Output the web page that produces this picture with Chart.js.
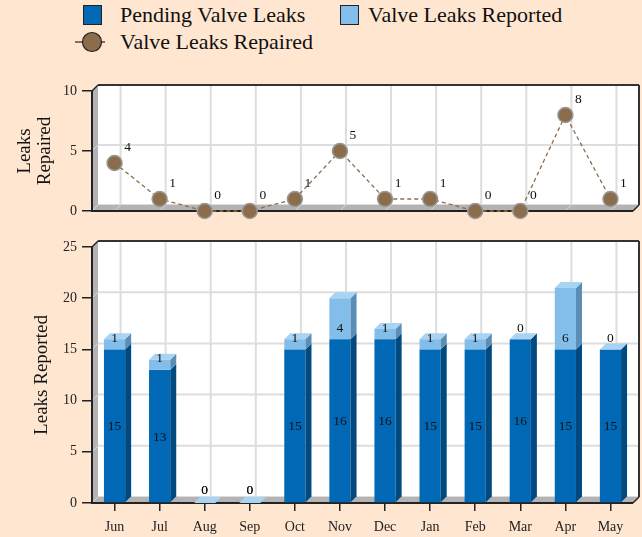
<!DOCTYPE html>
<html>
<head>
<meta charset="utf-8">
<script src="https://cdn.jsdelivr.net/npm/chart.js@4/dist/chart.umd.min.js"></script>
<style>
  html, body { margin: 0; padding: 0; background: #FFE6D0; }
  #wrap { position: relative; width: 642px; height: 537px; overflow: hidden; font-family: "Liberation Serif", "Times New Roman", serif; color: #111; }
  canvas { position: absolute; left: 0; }
  .lg-box { position: absolute; width: 17px; height: 18px; border: 1px solid #222; }
  .lg-text { position: absolute; font-size: 22px; line-height: 26px; white-space: nowrap; }
</style>
</head>
<body>
<div id="wrap">
  <!-- legend -->
  <div class="lg-box" style="left:83px;top:5px;background:#0068B4;"></div>
  <div class="lg-text" style="left:120px;top:2px;">Pending Valve Leaks</div>
  <div class="lg-box" style="left:340px;top:5px;background:#82BEE9;"></div>
  <div class="lg-text" style="left:368px;top:2px;">Valve Leaks Reported</div>
  <svg style="position:absolute;left:72px;top:30px;" width="36" height="24">
    <line x1="3" y1="12" x2="33" y2="12" stroke="#222" stroke-width="1.2"/>
    <circle cx="20" cy="12" r="9.5" fill="#8C6D4B" stroke="#222" stroke-width="1.2"/>
  </svg>
  <div class="lg-text" style="left:120px;top:29px;">Valve Leaks Repaired</div>

  <canvas id="chart-repaired" width="642" height="170" style="top:60px;"></canvas>
  <canvas id="chart-reported" width="642" height="307" style="top:230px;"></canvas>
</div>

<script>
const months = ['Jun', 'Jul', 'Aug', 'Sep', 'Oct', 'Nov', 'Dec', 'Jan', 'Feb', 'Mar', 'Apr', 'May'];
const pendingLeaks = [15, 13, 0, 0, 15, 16, 16, 15, 15, 16, 15, 15];
const reportedLeaks = [1, 1, 0, 0, 1, 4, 1, 1, 1, 0, 6, 0];
const repairedLeaks = [4, 1, 0, 0, 1, 5, 1, 1, 0, 0, 8, 1];
const repairedTicks = { min: 0, max: 10, step: 5 };
const reportedTicks = { min: 0, max: 25, step: 5 };

const SERIF = '"Liberation Serif", "Times New Roman", serif';
const DEPTH = 6;

const colors = {
  pending: '#0068B4', pendingSide: '#004A80',
  reported: '#82BEE9', reportedSide: '#5B8DB5', reportedTop: '#A8D3F2',
  repaired: '#8C6D4B', repairedLine: '#8C6D4B',
  wall: '#B3B3B3', wallMark: '#D8D8D8', grid: '#DDDDDD', edge: '#222222',
};

function poly(ctx, pts, fill) {
  ctx.beginPath();
  ctx.moveTo(pts[0][0], pts[0][1]);
  for (let i = 1; i < pts.length; i++) ctx.lineTo(pts[i][0], pts[i][1]);
  ctx.closePath();
  ctx.fillStyle = fill;
  ctx.fill();
}

function seg(ctx, x1, y1, x2, y2, color, width) {
  ctx.beginPath();
  ctx.moveTo(x1, y1);
  ctx.lineTo(x2, y2);
  ctx.strokeStyle = color;
  ctx.lineWidth = width;
  ctx.stroke();
}

// box frame: back wall, grid, side wall and floor
const frame3d = {
  id: 'frame3d',
  beforeDatasetsDraw(chart) {
    const ctx = chart.ctx;
    const { left, right, top, bottom } = chart.chartArea;
    const d = DEPTH;
    const xs = chart.scales.x, ys = chart.scales.y;
    ctx.save();
    ctx.fillStyle = '#fff';
    ctx.fillRect(left + d, top - d, right - left, bottom - top);

    ys.ticks.forEach(t => {
      const y = ys.getPixelForValue(t.value) - d;
      seg(ctx, left + d, y, right + d, y, colors.grid, 2);
    });
    months.forEach((m, i) => {
      const x = xs.getPixelForValue(i) + d;
      seg(ctx, x, top - d, x, bottom - d, colors.grid, 2);
    });

    poly(ctx, [[left, top], [left + d, top - d], [left + d, bottom - d], [left, bottom]], colors.wall);
    poly(ctx, [[left, bottom], [left + d, bottom - d], [right + d, bottom - d], [right, bottom]], colors.wall);
    ys.ticks.forEach(t => {
      const y = ys.getPixelForValue(t.value);
      seg(ctx, left, y, left + d, y - d, colors.wallMark, 1);
    });
    months.forEach((m, i) => {
      const x = xs.getPixelForValue(i);
      seg(ctx, x, bottom, x + d, bottom - d, colors.wallMark, 1);
    });

    seg(ctx, left + d, top - d, right + d, top - d, '#333', 2);
    seg(ctx, right + d, top - d, right + d, bottom - d, '#333', 2);
    seg(ctx, left, top, left + d, top - d, colors.edge, 1.5);
    seg(ctx, right, bottom, right + d, bottom - d, colors.edge, 1.5);
    seg(ctx, left, top - 1, left, bottom + 1, colors.edge, 2);
    seg(ctx, left - 1, bottom, right, bottom, colors.edge, 2);
    ctx.restore();
  },
};

// side and top faces of the stacked bars, plus value labels
const bars3d = {
  id: 'bars3d',
  afterDatasetsDraw(chart) {
    if (chart.config.type !== 'bar') return;
    const ctx = chart.ctx;
    const d = DEPTH;
    const pendMeta = chart.getDatasetMeta(0).data;
    const repMeta = chart.getDatasetMeta(1).data;
    ctx.save();
    months.forEach((m, i) => {
      const p = pendMeta[i], r = repMeta[i];
      const l = p.x - p.width / 2, rt = p.x + p.width / 2;
      if (pendingLeaks[i] > 0) {
        poly(ctx, [[rt, p.y], [rt + d, p.y - d], [rt + d, p.base - d], [rt, p.base]], colors.pendingSide);
      }
      if (reportedLeaks[i] > 0) {
        poly(ctx, [[rt, r.y], [rt + d, r.y - d], [rt + d, r.base - d], [rt, r.base]], colors.reportedSide);
      }
      poly(ctx, [[l, r.y], [l + d, r.y - d], [rt + d, r.y - d], [rt, r.y]], colors.reportedTop);
    });

    ctx.font = '13.5px ' + SERIF;
    ctx.fillStyle = '#111';
    ctx.textAlign = 'center';
    ctx.textBaseline = 'middle';
    months.forEach((m, i) => {
      const p = pendMeta[i], r = repMeta[i];
      const py = pendingLeaks[i] > 0 ? (p.y + p.base) / 2 + 1 : p.y - 13;
      ctx.fillText(String(pendingLeaks[i]), p.x, py);
      ctx.fillText(String(reportedLeaks[i]), r.x, r.base - (reportedLeaks[i] + pendingLeaks[i] > 0 ? 11 : 13));
    });
    ctx.restore();
  },
};

const pointLabels = {
  id: 'pointLabels',
  afterDatasetsDraw(chart) {
    if (chart.config.type !== 'line') return;
    const ctx = chart.ctx;
    const pts = chart.getDatasetMeta(0).data;
    ctx.save();
    ctx.font = '13.5px ' + SERIF;
    ctx.fillStyle = '#111';
    ctx.textAlign = 'center';
    ctx.textBaseline = 'middle';
    pts.forEach((pt, i) => ctx.fillText(String(repairedLeaks[i]), pt.x + 13, pt.y - 16));
    ctx.restore();
  },
};

function yAxis(range, title, titlePad) {
  return {
    position: 'left',
    min: range.min,
    max: range.max,
    afterFit: (s) => { s.width = 92; },
    border: { display: false },
    grid: { drawOnChartArea: false, drawTicks: true, tickLength: 10, tickColor: '#222', lineWidth: 1.5 },
    ticks: { stepSize: range.step, padding: 5, color: '#222', font: { family: SERIF, size: 14 } },
    title: { display: true, text: title, color: '#111', font: { family: SERIF, size: 19, lineHeight: 1.05 }, padding: { top: titlePad } },
  };
}

Chart.defaults.animation = false;

new Chart(document.getElementById('chart-repaired'), {
  type: 'line',
  data: {
    labels: months,
    datasets: [{
      label: 'Valve Leaks Repaired',
      data: repairedLeaks,
      borderColor: colors.repairedLine,
      borderWidth: 1.3,
      borderDash: [4, 3],
      tension: 0,
      pointRadius: 7.5,
      pointBackgroundColor: colors.repaired,
      pointBorderColor: '#999',
      pointBorderWidth: 1.5,
      clip: false,
    }],
  },
  options: {
    responsive: false,
    devicePixelRatio: 1,
    layout: { padding: { top: 31, bottom: 19, right: 9, left: 0 } },
    plugins: { legend: { display: false }, tooltip: { enabled: false } },
    scales: {
      x: { type: 'category', offset: true, display: false },
      y: yAxis(repairedTicks, ['Leaks', 'Repaired'], 15),
    },
  },
  plugins: [frame3d, pointLabels],
});

new Chart(document.getElementById('chart-reported'), {
  type: 'bar',
  data: {
    labels: months,
    datasets: [
      { label: 'Pending Valve Leaks', data: pendingLeaks, backgroundColor: colors.pending, borderWidth: 0 },
      { label: 'Valve Leaks Reported', data: reportedLeaks, backgroundColor: colors.reported, borderWidth: 0 },
    ],
  },
  options: {
    responsive: false,
    devicePixelRatio: 1,
    barPercentage: 0.47,
    categoryPercentage: 1,
    layout: { padding: { top: 17, bottom: 0, right: 9, left: 0 } },
    plugins: { legend: { display: false }, tooltip: { enabled: false } },
    scales: {
      x: {
        stacked: true,
        offset: true,
        afterFit: (s) => { s.height = 34; },
        border: { display: false },
        grid: { offset: false, drawOnChartArea: false, drawTicks: true, tickLength: 8, tickColor: '#222', lineWidth: 1.5 },
        ticks: { padding: 8, color: '#222', font: { family: SERIF, size: 14 } },
      },
      y: Object.assign(yAxis(reportedTicks, 'Leaks Reported', 32), { stacked: true }),
    },
  },
  plugins: [frame3d, bars3d],
});
</script>
</body>
</html>
